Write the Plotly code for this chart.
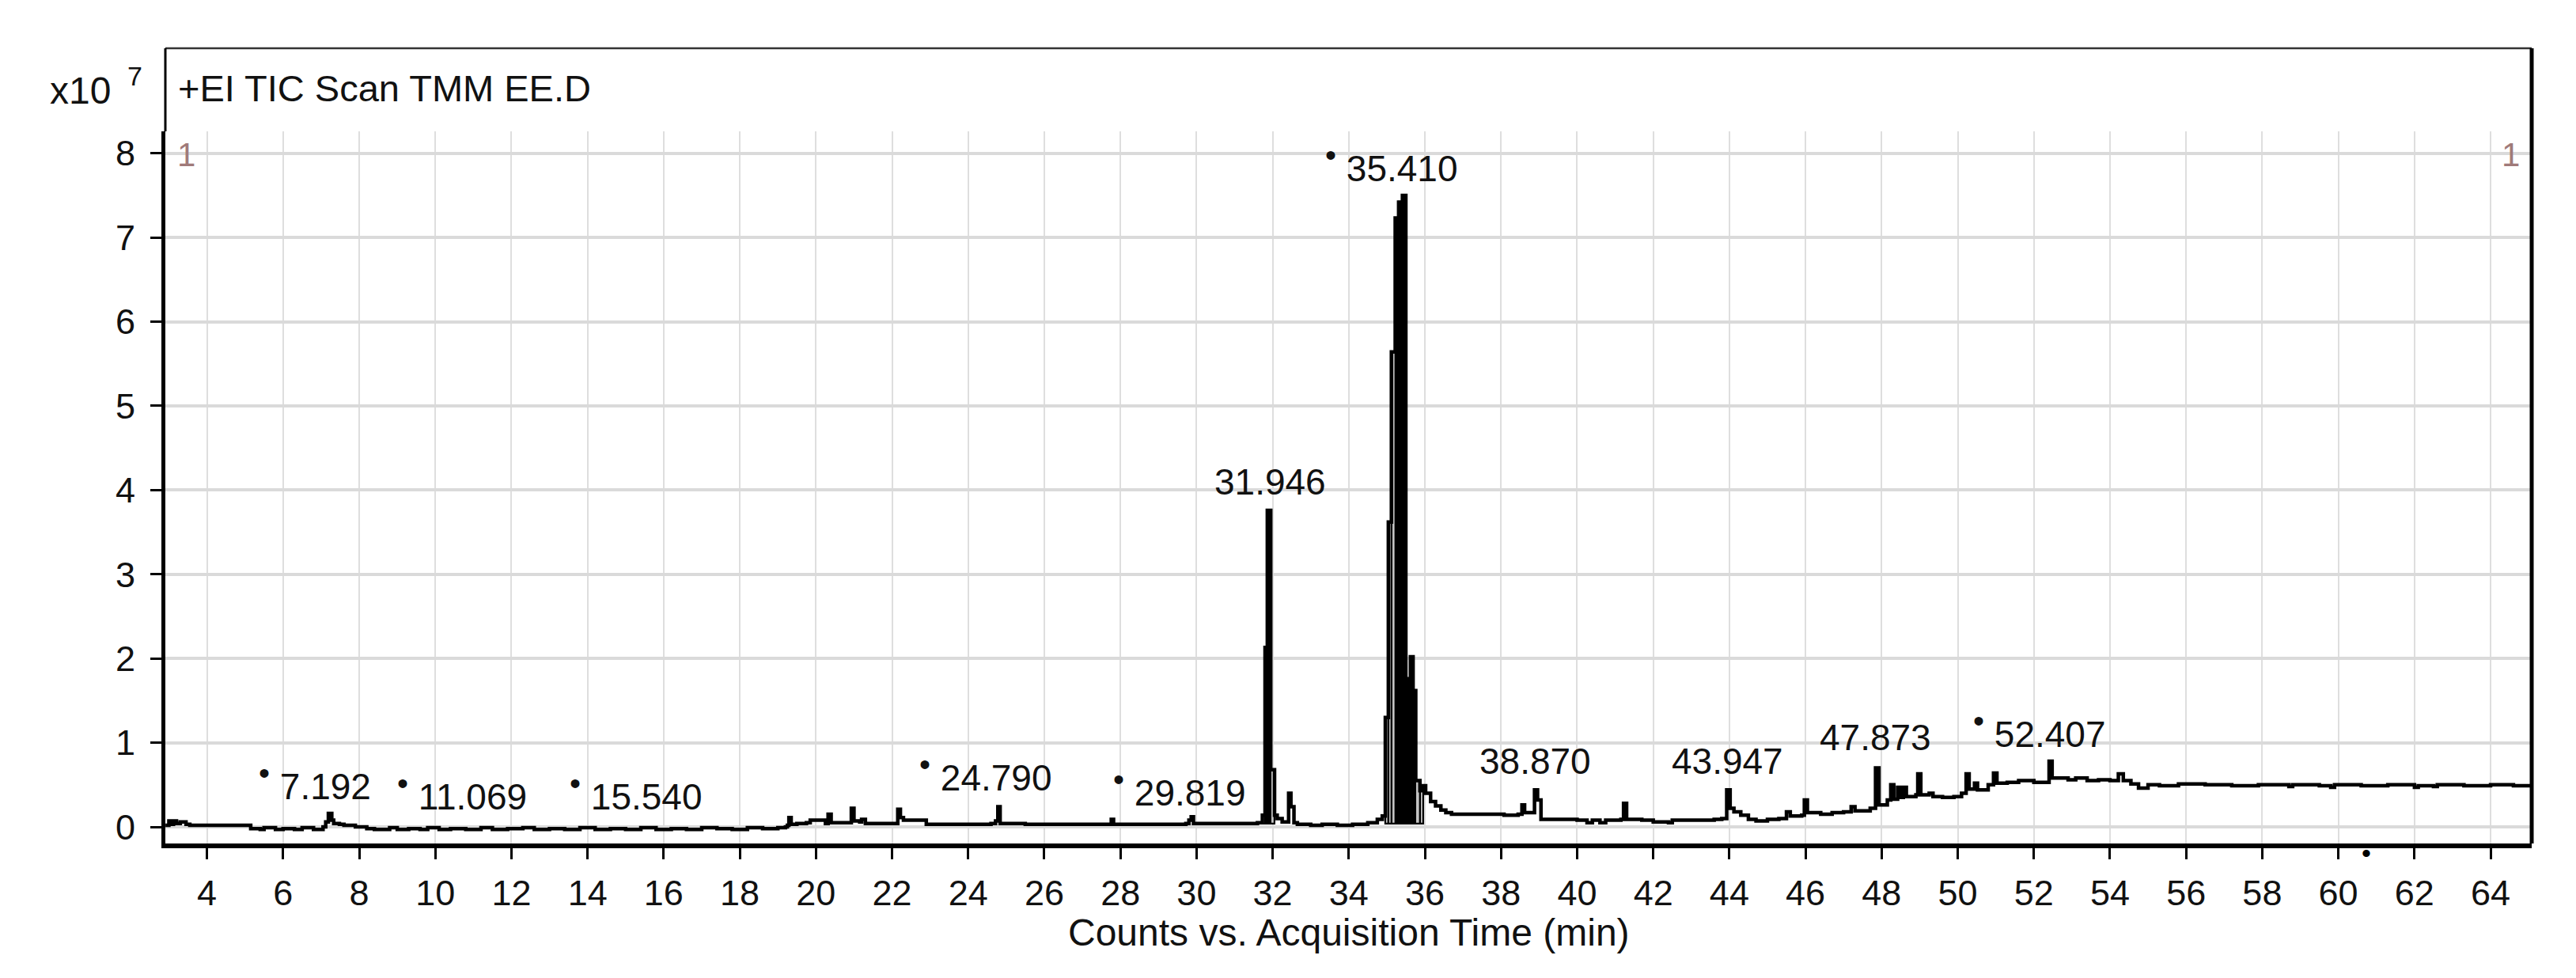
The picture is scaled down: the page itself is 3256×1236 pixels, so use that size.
import plotly.graph_objects as go

# ---------------- data (counts in units of 1e7, time in minutes) ----------------
tic_early = [(2.91, 0.02), (3.00, 0.07), (3.05, 0.03), (3.12, 0.07), (3.20, 0.04), (3.30, 0.06),
             (3.45, 0.03), (3.55, 0.02), (4.50, 0.02), (5.15, -0.02), (5.40, -0.03), (5.50, -0.01),
             (5.80, -0.03), (6.00, -0.02), (6.30, -0.03), (6.50, -0.01), (6.80, -0.03), (7.05, 0.00),
             (7.12, 0.06), (7.19, 0.16), (7.28, 0.08), (7.33, 0.04), (7.48, 0.03), (7.60, 0.02),
             (7.90, 0.00), (8.20, -0.02), (8.40, -0.03), (8.80, -0.01), (9.00, -0.03), (9.30, -0.02),
             (9.60, -0.03), (9.80, -0.01), (10.10, -0.03), (10.40, -0.02), (10.80, -0.03), (11.20, -0.01),
             (11.50, -0.03), (11.90, -0.02), (12.30, -0.01), (12.60, -0.03), (13.00, -0.02), (13.40, -0.03),
             (13.80, -0.01), (14.20, -0.03), (14.60, -0.02), (15.00, -0.03), (15.40, -0.01), (15.80, -0.03),
             (16.20, -0.02), (16.60, -0.03), (17.00, -0.01), (17.40, -0.02), (17.80, -0.03), (18.20, -0.01),
             (18.60, -0.02), (19.00, -0.01), (19.20, 0.00)]

tic_mid = [(19.25, 0.02), (19.29, 0.11), (19.35, 0.03), (19.50, 0.04), (19.75, 0.05), (19.85, 0.08),
           (20.25, 0.04), (20.32, 0.15), (20.40, 0.05), (20.85, 0.05), (20.93, 0.22), (21.00, 0.07),
           (21.15, 0.06), (21.20, 0.09), (21.30, 0.04), (22.08, 0.04), (22.15, 0.21), (22.22, 0.11),
           (22.30, 0.08), (22.90, 0.03), (23.50, 0.03), (24.00, 0.03), (24.60, 0.04), (24.72, 0.07),
           (24.78, 0.24), (24.84, 0.04), (25.50, 0.03), (26.00, 0.03), (26.50, 0.03), (27.00, 0.03),
           (27.70, 0.03), (27.76, 0.09), (27.82, 0.03), (28.50, 0.03), (29.30, 0.03), (29.72, 0.04),
           (29.80, 0.08), (29.86, 0.12), (29.92, 0.04), (30.50, 0.04), (31.20, 0.04), (31.60, 0.05)]

tic_main = [(31.73, 0.14), (31.80, 2.13), (31.86, 3.76), (31.95, 0.68), (32.05, 0.14), (32.12, 0.10),
            (32.25, 0.06), (32.42, 0.40), (32.48, 0.24), (32.56, 0.05), (32.65, 0.03), (33.00, 0.02),
            (33.30, 0.03), (33.70, 0.02), (34.10, 0.03), (34.50, 0.05), (34.75, 0.09), (34.88, 0.13),
            (34.96, 1.30), (35.04, 3.62), (35.12, 5.64), (35.22, 7.23), (35.31, 7.42), (35.41, 7.50),
            (35.50, 1.76), (35.62, 2.02), (35.69, 1.62), (35.76, 0.55), (35.87, 0.43), (35.95, 0.49),
            (36.02, 0.40), (36.15, 0.30), (36.28, 0.25), (36.42, 0.20), (36.55, 0.17), (36.70, 0.15),
            (37.20, 0.15), (37.80, 0.15)]

tic_late = [(38.08, 0.14), (38.45, 0.15), (38.55, 0.26), (38.62, 0.17), (38.80, 0.17), (38.88, 0.44),
            (38.96, 0.32), (39.05, 0.09), (39.80, 0.09), (40.00, 0.08), (40.26, 0.05), (40.40, 0.08),
            (40.60, 0.05), (40.75, 0.08), (41.15, 0.09), (41.22, 0.28), (41.30, 0.09), (41.70, 0.08),
            (42.00, 0.06), (42.40, 0.05), (42.50, 0.08), (43.00, 0.08), (43.60, 0.09), (43.80, 0.10),
            (43.93, 0.44), (44.02, 0.22), (44.12, 0.18), (44.30, 0.14), (44.50, 0.09), (44.70, 0.07),
            (45.00, 0.09), (45.30, 0.10), (45.50, 0.18), (45.60, 0.13), (45.90, 0.14), (45.97, 0.32),
            (46.05, 0.17), (46.40, 0.15), (46.70, 0.17), (47.00, 0.18), (47.20, 0.24), (47.30, 0.19),
            (47.70, 0.22), (47.84, 0.70), (47.93, 0.26), (48.15, 0.32), (48.24, 0.50), (48.32, 0.33),
            (48.42, 0.47), (48.50, 0.35), (48.57, 0.47), (48.65, 0.36), (48.90, 0.38), (48.95, 0.63),
            (49.03, 0.38), (49.25, 0.40), (49.35, 0.36), (49.60, 0.35), (49.90, 0.36), (50.10, 0.40),
            (50.22, 0.63), (50.30, 0.45), (50.44, 0.52), (50.52, 0.44), (50.80, 0.50), (50.94, 0.64),
            (51.03, 0.52), (51.30, 0.53), (51.60, 0.55), (52.00, 0.53), (52.40, 0.78), (52.48, 0.58),
            (52.90, 0.56), (53.10, 0.58), (53.40, 0.55), (53.70, 0.56), (54.00, 0.55), (54.22, 0.63),
            (54.35, 0.55), (54.55, 0.51), (54.75, 0.46), (55.00, 0.50)]

tic_tail = [(55.30, 0.49), (55.80, 0.51), (56.50, 0.50), (57.20, 0.49), (57.90, 0.50), (58.70, 0.48),
            (58.80, 0.50), (59.50, 0.49), (59.80, 0.47), (59.90, 0.50), (60.60, 0.49), (61.30, 0.50),
            (62.00, 0.47), (62.10, 0.49), (62.50, 0.48), (62.60, 0.50), (63.30, 0.49), (64.00, 0.50),
            (64.60, 0.49), (65.08, 0.50)]

# integrated (shaded) scans of the two big peaks
peak_a_scan_start = [31.73, 31.80, 31.86, 31.95]
peak_a_scan_end = 32.05
peak_a_counts = [0.14, 2.13, 3.76, 0.68]
peak_b_scan_start = [34.96, 35.04, 35.12, 35.22, 35.31, 35.41, 35.50, 35.62, 35.69, 35.76, 35.87]
peak_b_scan_end = 35.95
peak_b_counts = [1.30, 3.62, 5.64, 7.23, 7.42, 7.50, 1.76, 2.02, 1.62, 0.55, 0.43]

peak_labels = ["7.192", "11.069", "15.540", "24.790", "29.819", "31.946",
               "35.410", "38.870", "43.947", "47.873", "52.407"]
peak_marked = [True, True, True, True, True, False, True, False, False, False, True]

x_ticks = list(range(4, 65, 2))
y_ticks = list(range(0, 9))

# ---------------- layout placement (pixels of the 3256x1236 canvas) ----------------
W, H = 3256, 1236
PL, PR, PT, PB = 201, 3192, 158, 1058        # plot area
FRAME_TOP = 53
XR = [2.907, 65.08]
YR = [-0.197, 8.26]
FONT = "Liberation Sans, Arial, sans-serif"
GRAY_FILL = "#c3c3c3"

# per-scan fill styles (gray shading / dark core of the peaks)
peak_a_fill = [GRAY_FILL, "black", "black", GRAY_FILL]
peak_b_fill = [GRAY_FILL, GRAY_FILL, GRAY_FILL, "black", "black", "black",
               "black", "black", "black", GRAY_FILL, GRAY_FILL]


def px_x(px):
    return (px - PL) / (PR - PL)


def px_y(py):
    return (PB - py) / (PB - PT)


# label anchor positions (data coords): (x, y, xanchor)
label_pos = [(5.32, 0.54, "left"), (8.95, 0.42, "left"), (13.48, 0.42, "left"),
             (22.67, 0.645, "left"), (27.77, 0.466, "left"), (31.93, 4.10, "center"),
             (33.34, 7.88, "left"), (38.89, 0.78, "center"), (43.94, 0.78, "center"),
             (47.83, 1.06, "center"), (50.37, 1.16, "left")]

tic_all = tic_early + tic_mid + tic_main + tic_late + tic_tail
time_min = [p[0] for p in tic_all]
counts_e7 = [p[1] for p in tic_all]

fig = go.Figure()


def add_bars(starts, end, vals, fills):
    edges = starts + [end]
    widths = [edges[i + 1] - edges[i] for i in range(len(starts))]
    fig.add_trace(go.Bar(x=starts, y=[v - 0.04 for v in vals], base=0.04, width=widths, offset=0,
                         marker=dict(color=fills, line=dict(color="black", width=2.2)),
                         showlegend=False, hoverinfo="skip"))


add_bars(peak_a_scan_start, peak_a_scan_end, peak_a_counts, peak_a_fill)
add_bars(peak_b_scan_start, peak_b_scan_end, peak_b_counts, peak_b_fill)

fig.add_trace(go.Scatter(x=time_min, y=counts_e7, mode="lines",
                         line=dict(color="black", width=4.5, shape="hv"),
                         showlegend=False, hoverinfo="skip"))

annotations = []
for lab, mk, (lx, ly, anc) in zip(peak_labels, peak_marked, label_pos):
    txt = ("<sup><span style='font-size:40px'>•</span></sup> " + lab) if mk else lab
    annotations.append(dict(x=lx, y=ly, xref="x", yref="y", text=txt, showarrow=False,
                            xanchor=anc, yanchor="middle",
                            font=dict(family=FONT, size=46, color="#111111")))

annotations += [
    dict(x=px_x(215), y=px_y(103), xref="paper", yref="paper", text="+EI TIC Scan TMM EE.D",
         showarrow=False, xanchor="left", yanchor="middle",
         font=dict(family=FONT, size=47, color="#111111")),
    dict(x=px_x(134), y=px_y(106), xref="paper", yref="paper", text="x10",
         showarrow=False, xanchor="right", yanchor="middle",
         font=dict(family=FONT, size=48, color="#111111")),
    dict(x=px_x(162), y=px_y(88), xref="paper", yref="paper", text="7",
         showarrow=False, xanchor="center", yanchor="middle",
         font=dict(family=FONT, size=34, color="#111111")),
    dict(x=px_x(227), y=px_y(187), xref="paper", yref="paper", text="1",
         showarrow=False, xanchor="center", yanchor="middle",
         font=dict(family=FONT, size=42, color="#a07a7a")),
    dict(x=px_x(3165), y=px_y(187), xref="paper", yref="paper", text="1",
         showarrow=False, xanchor="center", yanchor="middle",
         font=dict(family=FONT, size=42, color="#a07a7a")),
    dict(x=0.5, y=px_y(1170), xref="paper", yref="paper", text="Counts vs. Acquisition Time (min)",
         showarrow=False, xanchor="center", yanchor="middle",
         font=dict(family=FONT, size=48, color="#111111")),
    dict(x=60.74, y=px_y(1070), xref="x", yref="paper", text="•",
         showarrow=False, xanchor="center", yanchor="middle",
         font=dict(family=FONT, size=34, color="black")),
]

shapes = [
    dict(type="line", xref="paper", yref="paper", x0=0, x1=1, y0=px_y(FRAME_TOP), y1=px_y(FRAME_TOP),
         line=dict(color="#333333", width=2.5)),
    dict(type="line", xref="paper", yref="paper", x0=1, x1=1, y0=0, y1=px_y(FRAME_TOP),
         line=dict(color="black", width=5)),
    dict(type="line", xref="paper", yref="paper", x0=0, x1=0, y0=1, y1=px_y(FRAME_TOP),
         line=dict(color="black", width=3)),
]

fig.update_layout(
    width=W, height=H,
    margin=dict(l=PL, r=W - PR, t=PT, b=H - PB, pad=0),
    paper_bgcolor="white", plot_bgcolor="white",
    bargap=0, barmode="overlay",
    annotations=annotations, shapes=shapes,
    font=dict(family=FONT, color="black"),
)

fig.update_xaxes(range=XR, tickvals=x_ticks, ticktext=[str(t) for t in x_ticks],
                 ticks="outside", ticklen=14, tickwidth=3, tickcolor="black",
                 showline=True, linewidth=6, linecolor="black",
                 showgrid=True, gridcolor="#dedede", gridwidth=2, zeroline=False,
                 tickfont=dict(family=FONT, size=45, color="#111111"), ticklabelstandoff=4)
fig.update_yaxes(range=YR, tickvals=y_ticks, ticktext=[str(t) for t in y_ticks],
                 ticks="outside", ticklen=14, tickwidth=3, tickcolor="black",
                 showline=True, linewidth=5, linecolor="black",
                 showgrid=True, gridcolor="#dadada", gridwidth=4, zeroline=False,
                 tickfont=dict(family=FONT, size=45, color="#111111"), ticklabelstandoff=10)

fig.write_html("out.html")
